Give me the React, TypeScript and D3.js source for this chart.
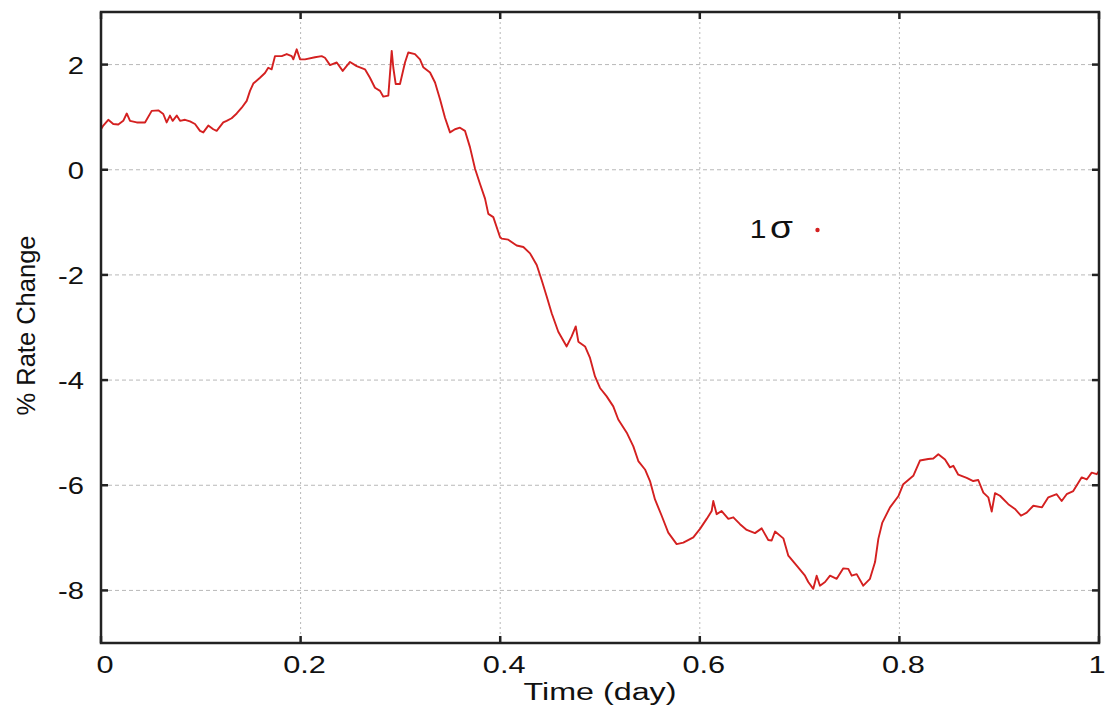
import React from "react";
import * as d3 from "d3";

// Time axis (fraction of a day) and the % rate change series
const timeDays: number[] = [
  0.0, 0.0023, 0.0073, 0.0123, 0.0173, 0.0223, 0.0258, 0.0291, 0.0358, 0.0441,
  0.0508, 0.0574, 0.0624, 0.0658, 0.0691, 0.0718, 0.0759, 0.0792, 0.0842, 0.0892,
  0.0942, 0.0992, 0.1025, 0.1075, 0.1125, 0.1159, 0.1225, 0.1259, 0.1309, 0.136,
  0.141, 0.146, 0.1493, 0.1526, 0.1593, 0.1643, 0.1676, 0.171, 0.1743, 0.1811,
  0.1861, 0.1911, 0.1927, 0.1961, 0.1994, 0.2044, 0.2144, 0.2211, 0.2244, 0.2295,
  0.2362, 0.2422, 0.2495, 0.2562, 0.2645, 0.2695, 0.2745, 0.2796, 0.2829, 0.2879,
  0.2913, 0.2929, 0.2953, 0.2996, 0.3046, 0.3079, 0.3146, 0.3196, 0.3229, 0.3297,
  0.3347, 0.3397, 0.3447, 0.3497, 0.3547, 0.3597, 0.3647, 0.3697, 0.3748, 0.3798,
  0.3848, 0.3881, 0.3931, 0.3998, 0.4015, 0.4081, 0.4165, 0.4232, 0.4299, 0.4366,
  0.4416, 0.4466, 0.4516, 0.4582, 0.4666, 0.4716, 0.4757, 0.4783, 0.485, 0.49,
  0.495, 0.5, 0.5067, 0.5133, 0.5183, 0.5268, 0.5334, 0.5384, 0.5451, 0.5501,
  0.5551, 0.5618, 0.5684, 0.5768, 0.5835, 0.5935, 0.6002, 0.6069, 0.6119, 0.6135,
  0.6169, 0.6219, 0.6286, 0.6336, 0.6403, 0.647, 0.6553, 0.662, 0.6686, 0.672,
  0.6754, 0.6837, 0.6887, 0.6971, 0.7054, 0.7087, 0.7137, 0.7171, 0.7204, 0.7255,
  0.7305, 0.7372, 0.7438, 0.7488, 0.7522, 0.7572, 0.7638, 0.7705, 0.7756, 0.7789,
  0.7829, 0.7906, 0.7989, 0.8039, 0.8139, 0.8206, 0.8289, 0.834, 0.839, 0.8457,
  0.8507, 0.854, 0.859, 0.8674, 0.874, 0.879, 0.8841, 0.8891, 0.8925, 0.8958,
  0.9008, 0.9091, 0.9158, 0.9218, 0.9276, 0.9342, 0.9429, 0.9492, 0.9576, 0.9626,
  0.9676, 0.9742, 0.9827, 0.9877, 0.9927, 0.9977, 1.0,
];

const rateChange: number[] = [
  0.77, 0.84, 0.95, 0.87, 0.86, 0.93, 1.07, 0.93, 0.9, 0.9,
  1.12, 1.13, 1.06, 0.9, 1.03, 0.93, 1.03, 0.93, 0.95, 0.92,
  0.87, 0.74, 0.71, 0.84, 0.77, 0.74, 0.9, 0.93, 0.98, 1.07,
  1.18, 1.31, 1.5, 1.64, 1.75, 1.84, 1.94, 1.91, 2.16, 2.16,
  2.2, 2.16, 2.1, 2.29, 2.1, 2.1, 2.14, 2.16, 2.13, 1.99,
  2.04, 1.88, 2.05, 1.97, 1.91, 1.75, 1.56, 1.5, 1.39, 1.41,
  2.26, 1.94, 1.63, 1.63, 2.04, 2.23, 2.2, 2.1, 1.95, 1.85,
  1.66, 1.34, 0.99, 0.71, 0.77, 0.8, 0.74, 0.43, 0.02, -0.27,
  -0.55, -0.84, -0.9, -1.28, -1.31, -1.33, -1.44, -1.47, -1.59, -1.81,
  -2.1, -2.41, -2.73, -3.08, -3.36, -3.17, -2.98, -3.27, -3.36, -3.58,
  -3.93, -4.15, -4.31, -4.5, -4.75, -5.0, -5.26, -5.54, -5.7, -5.92,
  -6.27, -6.58, -6.9, -7.12, -7.09, -6.99, -6.83, -6.64, -6.49, -6.3,
  -6.55, -6.49, -6.64, -6.61, -6.74, -6.85, -6.91, -6.82, -7.04, -7.05,
  -6.88, -7.01, -7.34, -7.53, -7.72, -7.84, -7.97, -7.72, -7.91, -7.84,
  -7.72, -7.78, -7.58, -7.59, -7.72, -7.69, -7.91, -7.78, -7.46, -7.02,
  -6.71, -6.42, -6.21, -5.98, -5.82, -5.53, -5.5, -5.49, -5.41, -5.51,
  -5.66, -5.63, -5.8, -5.86, -5.92, -5.9, -6.14, -6.23, -6.5, -6.15,
  -6.2, -6.36, -6.45, -6.58, -6.52, -6.39, -6.42, -6.23, -6.17, -6.3,
  -6.17, -6.11, -5.85, -5.89, -5.76, -5.79, -5.73,
];

const xTickValues: number[] = [0, 0.2, 0.4, 0.6, 0.8, 1];
const xTickLabels: string[] = ["0", "0.2", "0.4", "0.6", "0.8", "1"];
const yTickValues: number[] = [-8, -6, -4, -2, 0, 2];
const yTickLabels: string[] = ["-8", "-6", "-4", "-2", "0", "2"];

const xTitle = "Time (day)";
const yTitle = "% Rate Change";
const legendNumber = "1";
const legendSymbol = "σ";

const WIDTH = 1107;
const HEIGHT = 709;
const plot = { left: 101, right: 1099, top: 12, bottom: 643 };

const FONT = "'Liberation Sans', Arial, Helvetica, sans-serif";
const LINE_COLOR = "#d42020";

export default function App() {
  const x = d3.scaleLinear().domain([0, 1]).range([plot.left, plot.right]);
  const y = d3.scaleLinear().domain([-9, 3]).range([plot.bottom, plot.top]);

  const points = timeDays.map((t, i) => [t, rateChange[i]] as [number, number]);
  const linePath = d3
    .line<[number, number]>()
    .x((d) => x(d[0]))
    .y((d) => y(d[1]))(points) as string;

  const tickLen = 7;
  const stretch = 1.28;

  return (
    <div style={{ position: "fixed", left: 0, top: 0 }}>
      <svg width={WIDTH} height={HEIGHT} style={{ display: "block", background: "#fff" }}>
        {/* grid */}
        <g>
          {xTickValues
            .filter((v) => v > 0 && v < 1)
            .map((v) => (
              <line
                key={"gx" + v}
                x1={x(v)}
                x2={x(v)}
                y1={plot.top}
                y2={plot.bottom}
                stroke="#b8b8b8"
                strokeWidth={1}
                strokeDasharray="2 3"
              />
            ))}
          {yTickValues.map((v) => (
            <line
              key={"gy" + v}
              x1={plot.left}
              x2={plot.right}
              y1={y(v)}
              y2={y(v)}
              stroke="#b8b8b8"
              strokeWidth={1}
              strokeDasharray="4 3"
            />
          ))}
        </g>

        {/* data line */}
        <path d={linePath} fill="none" stroke={LINE_COLOR} strokeWidth={1.9} strokeLinejoin="round" />

        {/* legend */}
        <text
          x={0}
          y={0}
          transform={`translate(793,238) scale(1.2,1)`}
          textAnchor="end"
          fontFamily={FONT}
          fontSize={25}
          fill="#111"
        >
          <tspan>{legendNumber}</tspan>
          <tspan dx={3} fontSize={31}>
            {legendSymbol}
          </tspan>
        </text>
        <circle cx={817.5} cy={230} r={2.2} fill={LINE_COLOR} />

        {/* frame */}
        <rect
          x={plot.left}
          y={plot.top}
          width={plot.right - plot.left}
          height={plot.bottom - plot.top}
          fill="none"
          stroke="#222"
          strokeWidth={2.5}
        />

        {/* ticks */}
        <g stroke="#222" strokeWidth={2.5}>
          {xTickValues.map((v) => (
            <g key={"tx" + v}>
              <line x1={x(v)} x2={x(v)} y1={plot.bottom} y2={plot.bottom - tickLen} />
              <line x1={x(v)} x2={x(v)} y1={plot.top} y2={plot.top + tickLen} />
            </g>
          ))}
          {yTickValues.map((v) => (
            <g key={"ty" + v}>
              <line x1={plot.left} x2={plot.left + tickLen} y1={y(v)} y2={y(v)} />
              <line x1={plot.right} x2={plot.right - tickLen} y1={y(v)} y2={y(v)} />
            </g>
          ))}
        </g>

        {/* tick labels */}
        <g fontFamily={FONT} fontSize={24} fill="#111">
          {xTickValues.map((v, i) => (
            <text
              key={"lx" + v}
              transform={`translate(${Math.min(x(v) + 4, WIDTH - 10)},673) scale(${stretch},1)`}
              textAnchor="middle"
            >
              {xTickLabels[i]}
            </text>
          ))}
          {yTickValues.map((v, i) => (
            <text
              key={"ly" + v}
              transform={`translate(84,${y(v) + 9}) scale(${stretch * 0.95},1)`}
              textAnchor="end"
            >
              {yTickLabels[i]}
            </text>
          ))}
        </g>

        {/* axis titles */}
        <text
          transform={`translate(${(plot.left + plot.right) / 2},700) scale(${stretch * 1.05},1)`}
          textAnchor="middle"
          fontFamily={FONT}
          fontSize={24}
          fill="#111"
        >
          {xTitle}
        </text>
        <text
          transform="translate(35,325.5) rotate(-90)"
          textAnchor="middle"
          fontFamily={FONT}
          fontSize={25.5}
          fill="#111"
        >
          {yTitle}
        </text>
      </svg>
    </div>
  );
}
